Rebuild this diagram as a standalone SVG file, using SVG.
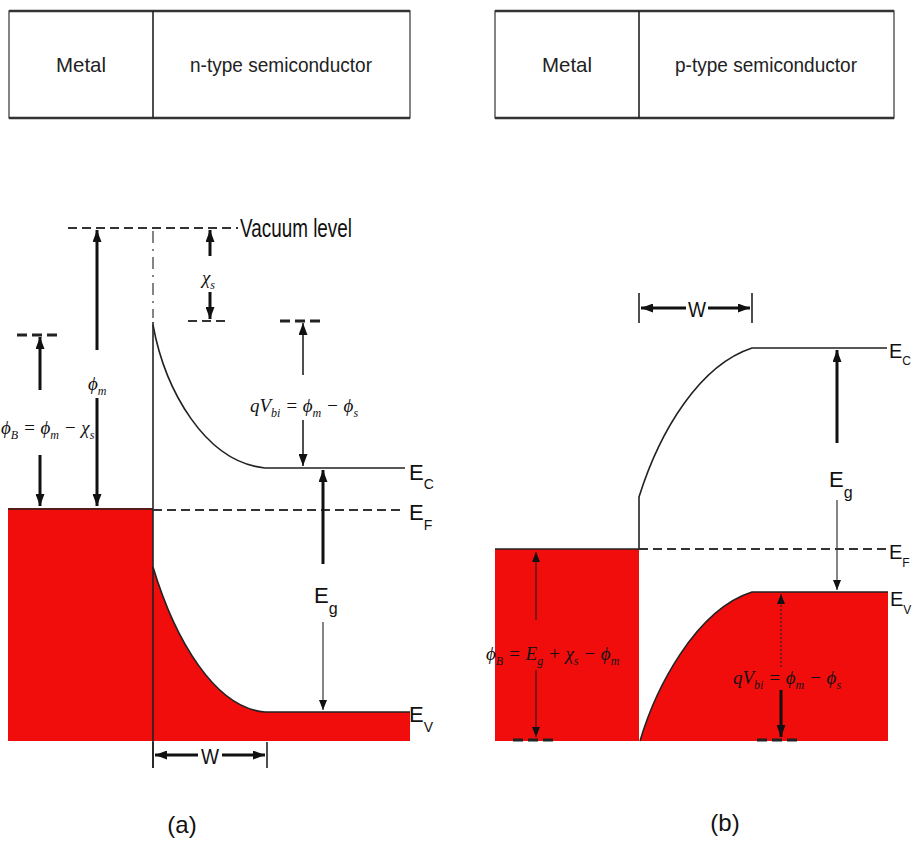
<svg xmlns="http://www.w3.org/2000/svg" width="913" height="841" viewBox="0 0 913 841">
<style>
.bg{fill:#ffffff}
.box{fill:#ffffff;stroke:#333;stroke-width:1.2}
.boxedge{stroke:#333;stroke-width:2.5}
.boxtxt{font-family:"Liberation Sans",Arial,sans-serif;font-size:21px;fill:#222;text-anchor:middle}
.ln{stroke:#222;stroke-width:1.6;fill:none}
.thin{stroke:#222;stroke-width:1.1;fill:none}
.thick{stroke:#111;stroke-width:3;fill:none}
.dash{stroke:#333;stroke-width:2;stroke-dasharray:9 5;fill:none}
.bdash{stroke:#222;stroke-width:3;stroke-dasharray:10 5;fill:none}
.red{fill:#f20d0d}
.sans{font-family:"Liberation Sans",Arial,sans-serif;fill:#111}
.elab{font-family:"Liberation Sans",Arial,sans-serif;fill:#111;font-size:22px}
.esub{font-size:14px}
.elabb{font-family:"Liberation Sans",Arial,sans-serif;fill:#111;font-size:20px}
.esubb{font-size:12px}
.math{font-family:"Liberation Serif","Times New Roman",serif;font-style:italic;font-size:19px;fill:#111}
.sub{font-size:12px}
</style>
<defs>
<marker id="ah" viewBox="0 0 12 9" refX="12" refY="4.5" markerWidth="12" markerHeight="9" markerUnits="userSpaceOnUse" orient="auto">
<path d="M0,0 L12,4.5 L0,9 z" fill="#111"/>
</marker>
<marker id="ahs" viewBox="0 0 10 8" refX="10" refY="4" markerWidth="10" markerHeight="8" markerUnits="userSpaceOnUse" orient="auto">
<path d="M0,0 L10,4 L0,8 z" fill="#111"/>
</marker>
</defs>
<rect class="bg" x="0" y="0" width="913" height="841"/>

<!-- Top structure boxes -->
<g id="box-a">
<rect class="box" x="9" y="11" width="401" height="107"/>
<line class="boxedge" x1="9" y1="11" x2="410" y2="11"/>
<line class="boxedge" x1="9" y1="118" x2="410" y2="118"/>
<line class="ln" x1="153" y1="11" x2="153" y2="118"/>
<text class="boxtxt" x="81" y="72" textLength="50" lengthAdjust="spacingAndGlyphs">Metal</text>
<text class="boxtxt" x="281" y="72" textLength="182" lengthAdjust="spacingAndGlyphs">n-type semiconductor</text>
</g>
<g id="box-b">
<rect class="box" x="495" y="11" width="399" height="107"/>
<line class="boxedge" x1="495" y1="11" x2="894" y2="11"/>
<line class="boxedge" x1="495" y1="118" x2="894" y2="118"/>
<line class="ln" x1="639" y1="11" x2="639" y2="118"/>
<text class="boxtxt" x="567" y="72" textLength="50" lengthAdjust="spacingAndGlyphs">Metal</text>
<text class="boxtxt" x="766" y="72" textLength="182" lengthAdjust="spacingAndGlyphs">p-type semiconductor</text>
</g>

<!-- Panel (a) -->
<g id="a-metal">
<rect class="red" x="8" y="508" width="145" height="233"/>
<line class="ln" x1="8" y1="509" x2="153" y2="509"/>
</g>
<g id="a-valence">
<path class="red" d="M153,567 C175,640 215,708 265,712 L410,712 L410,741 L153,741 Z"/>
<path class="ln" d="M153,567 C175,640 215,708 265,712 L410,712"/>
</g>
<g id="a-conduction">
<path class="ln" d="M153,325 C165,390 205,462 265,468 L405,468"/>
</g>
<g id="a-interface">
<line class="thin" x1="153" y1="231" x2="153" y2="318" stroke-dasharray="12 6 2 6"/>
<line class="ln" x1="153" y1="322" x2="153" y2="768"/>
</g>
<g id="a-vacuum">
<line class="dash" x1="68" y1="228" x2="238" y2="228"/>
<text class="sans" x="240" y="237" font-size="26" textLength="112" lengthAdjust="spacingAndGlyphs">Vacuum level</text>
</g>
<g id="a-fermi">
<line class="dash" x1="153" y1="510" x2="405" y2="510"/>
</g>
<g id="a-labels">
<text class="elab" x="409" y="480">E<tspan class="esub" dy="9">C</tspan></text>
<text class="elab" x="409" y="520">E<tspan class="esub" dy="10">F</tspan></text>
<text class="elab" x="409" y="722">E<tspan class="esub" dy="10">V</tspan></text>
</g>

<g id="connectors">
<!-- phi_m -->
<line class="thick" x1="97" y1="350" x2="97" y2="230" marker-end="url(#ah)"/>
<line class="thick" x1="97" y1="398" x2="97" y2="506" marker-end="url(#ah)"/>
<text class="math" x="88" y="390">ϕ<tspan class="sub" dy="5">m</tspan></text>
<!-- phi_B (a) -->
<line class="bdash" x1="17" y1="335" x2="62" y2="335"/>
<line class="thick" x1="40" y1="390" x2="40" y2="337" marker-end="url(#ah)"/>
<line class="thick" x1="40" y1="455" x2="40" y2="506" marker-end="url(#ah)"/>
<text class="math" x="1" y="434">ϕ<tspan class="sub" dy="5">B</tspan><tspan dy="-5"> = ϕ</tspan><tspan class="sub" dy="5">m</tspan><tspan dy="-5"> − χ</tspan><tspan class="sub" dy="5">s</tspan></text>
<!-- chi_s -->
<line class="dash" x1="188" y1="321" x2="229" y2="321" stroke-dasharray="8 5"/>
<line class="thick" x1="210" y1="256" x2="210" y2="230" marker-end="url(#ah)"/>
<line class="thick" x1="210" y1="292" x2="210" y2="319" marker-end="url(#ah)"/>
<text class="math" x="202" y="284">χ<tspan class="sub" dy="5">s</tspan></text>
<!-- qVbi (a) -->
<line class="bdash" x1="280" y1="321" x2="323" y2="321"/>
<line class="ln" x1="303" y1="375" x2="303" y2="323" marker-end="url(#ah)"/>
<line class="ln" x1="303" y1="420" x2="303" y2="466" marker-end="url(#ah)"/>
<text class="math" x="250" y="412">qV<tspan class="sub" dy="5">bi</tspan><tspan dy="-5"> = ϕ</tspan><tspan class="sub" dy="5">m</tspan><tspan dy="-5"> − ϕ</tspan><tspan class="sub" dy="5">s</tspan></text>
<!-- Eg (a) -->
<line class="thick" x1="323" y1="564" x2="323" y2="470" marker-end="url(#ah)"/>
<line class="thin" x1="323" y1="622" x2="323" y2="710" marker-end="url(#ahs)"/>
<text class="elab" x="314" y="603" font-size="26">E<tspan font-size="16" dy="11">g</tspan></text>
<!-- W (a) -->
<line class="ln" x1="153" y1="742" x2="153" y2="768"/>
<line class="ln" x1="267" y1="742" x2="267" y2="768"/>
<line class="thick" x1="198" y1="755" x2="155" y2="755" marker-end="url(#ah)"/>
<line class="thick" x1="222" y1="755" x2="265" y2="755" marker-end="url(#ah)"/>
<text class="sans" x="210" y="764" font-size="22" text-anchor="middle" textLength="18" lengthAdjust="spacingAndGlyphs">W</text>

<!-- Eg (b) -->
<line class="thick" x1="837" y1="443" x2="837" y2="350" marker-end="url(#ah)"/>
<line class="thin" x1="837" y1="500" x2="837" y2="590" marker-end="url(#ahs)"/>
<!-- W (b) -->
<line class="ln" x1="639" y1="293" x2="639" y2="323"/>
<line class="ln" x1="752" y1="293" x2="752" y2="323"/>
<line class="thick" x1="686" y1="308" x2="641" y2="308" marker-end="url(#ah)"/>
<line class="thick" x1="708" y1="308" x2="750" y2="308" marker-end="url(#ah)"/>
</g>

<!-- Panel (b) -->
<g id="b-metal">
<rect class="red" x="495" y="549" width="144" height="192"/>
<line class="ln" x1="495" y1="549" x2="639" y2="549"/>
</g>
<g id="b-valence">
<path class="red" d="M640,741 C655,690 695,610 752,592 L888,592 L888,741 Z"/>
<path class="ln" d="M640,741 C655,690 695,610 752,592 L888,592"/>
</g>
<g id="b-conduction">
<path class="ln" d="M639,549 L639,497 C660,430 700,365 752,348 L887,348"/>
</g>
<g id="b-fermi">
<line class="dash" x1="639" y1="549" x2="887" y2="549"/>
</g>
<g id="b-labels">
<text class="elabb" x="889" y="358">E<tspan class="esubb" dy="7">C</tspan></text>
<text class="elabb" x="889" y="559">E<tspan class="esubb" dy="8">F</tspan></text>
<text class="elabb" x="890" y="606">E<tspan class="esubb" dy="8">V</tspan></text>
<text class="elab" x="829" y="487" font-size="26">E<tspan font-size="16" dy="11">g</tspan></text>
<text class="sans" x="697" y="317" font-size="22" text-anchor="middle" textLength="18" lengthAdjust="spacingAndGlyphs">W</text>
</g>
<g id="b-arrows">
<!-- phi_B (b) -->
<line class="thin" x1="536" y1="620" x2="536" y2="552" marker-end="url(#ahs)"/>
<line class="thin" x1="536" y1="670" x2="536" y2="737" marker-end="url(#ahs)"/>
<line class="bdash" x1="513" y1="740" x2="555" y2="740"/>
<text class="math" x="486" y="660">ϕ<tspan class="sub" dy="5">B</tspan><tspan dy="-5"> = E</tspan><tspan class="sub" dy="5">g</tspan><tspan dy="-5"> + χ</tspan><tspan class="sub" dy="5">s</tspan><tspan dy="-5"> − ϕ</tspan><tspan class="sub" dy="5">m</tspan></text>
<!-- qVbi (b) -->
<line class="thin" x1="781" y1="667" x2="781" y2="594" stroke-dasharray="2 2" marker-end="url(#ahs)"/>
<line class="thick" x1="781" y1="690" x2="781" y2="737" marker-end="url(#ah)"/>
<line class="bdash" x1="757" y1="740" x2="800" y2="740"/>
<text class="math" x="733" y="684">qV<tspan class="sub" dy="5">bi</tspan><tspan dy="-5"> = ϕ</tspan><tspan class="sub" dy="5">m</tspan><tspan dy="-5"> − ϕ</tspan><tspan class="sub" dy="5">s</tspan></text>
</g>

<g id="captions">
<text class="sans" x="182" y="833" font-size="24" text-anchor="middle">(a)</text>
<text class="sans" x="725" y="831" font-size="24" text-anchor="middle">(b)</text>
</g>
</svg>
